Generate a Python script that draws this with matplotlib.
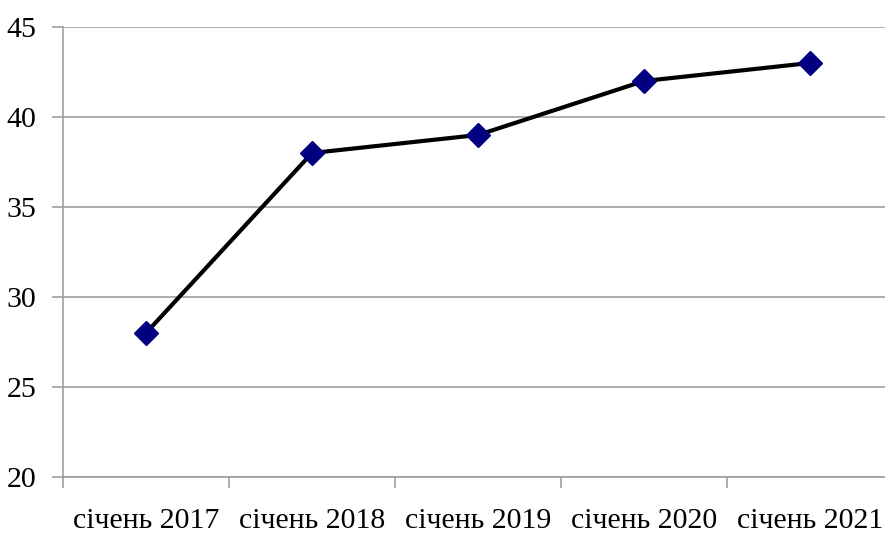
import matplotlib
matplotlib.use("Agg")
import matplotlib.pyplot as plt
import numpy as np

# дані
categories = ["січень 2017", "січень 2018", "січень 2019", "січень 2020", "січень 2021"]
values = [28, 38, 39, 42, 43]
y_ticks = [20, 25, 30, 35, 40, 45]

plt.rcParams["font.family"] = ["Liberation Serif", "DejaVu Serif"]

fig = plt.figure(figsize=(8.85, 5.35), dpi=100)
ax = fig.add_axes([63 / 885, 58 / 535, 830 / 885, 450 / 535])

x = np.arange(len(categories))
ax.plot(x, values, color="black", linewidth=3, marker="D",
        markersize=12, markerfacecolor="#000080", markeredgecolor="#000080",
        zorder=3, clip_on=False)

ax.set_xlim(-0.5, len(categories) - 0.5)
ax.set_ylim(20, 45)
ax.set_yticks(y_ticks)
ax.set_yticklabels([str(v) for v in y_ticks], fontsize=21.5)
ax.yaxis.grid(True, color="#a0a0a0", linewidth=1.2)
ax.set_axisbelow(True)

ax.set_xticks(x)
ax.set_xticklabels(categories, fontsize=21.5)
ax.set_xticks(np.arange(len(categories) + 1) - 0.5, minor=True)
ax.tick_params(axis="x", which="major", length=0, pad=22)
ax.tick_params(axis="x", which="minor", length=8, color="#a0a0a0", width=1.2)
ax.tick_params(axis="y", length=8, color="#a0a0a0", width=1.2, pad=11)

for side in ["top", "right"]:
    ax.spines[side].set_visible(False)
for side in ["left", "bottom"]:
    ax.spines[side].set_color("#a0a0a0")
    ax.spines[side].set_linewidth(1.2)

fig.savefig("out.png", dpi=100)
